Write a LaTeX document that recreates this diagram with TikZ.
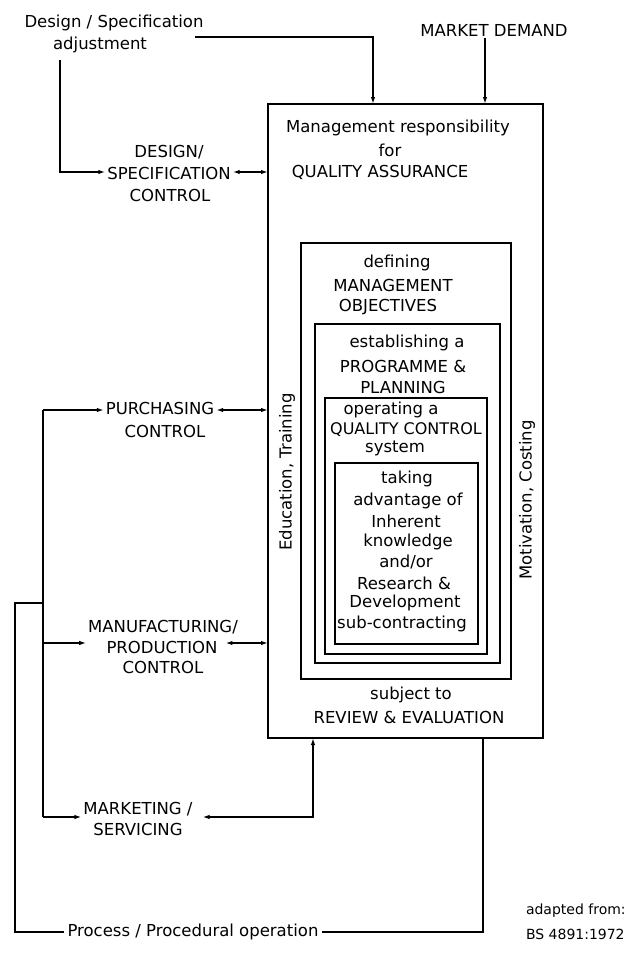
\documentclass[tikz,border=0pt]{standalone}
\usepackage{fontspec}
\setmainfont{DejaVu Sans}
\usetikzlibrary{arrows.meta}
\tikzset{
  ln/.style={line width=1.8pt},
  tipA/.tip={Latex[length=7pt,width=4.5pt]},
  arr/.style={ln, -tipA},
  both/.style={ln, tipA-tipA},
  txt/.style={font=\fontsize{16.5}{21}\selectfont, inner sep=2pt, outer sep=0pt},
  small/.style={font=\fontsize{14}{18}\selectfont, inner sep=0pt, outer sep=0pt},
  frame/.style={draw, line width=1.8pt, inner sep=0pt, outer sep=0pt},
}
\begin{document}
\begin{tikzpicture}[x=1pt,y=-1pt]
\useasboundingbox (0,0) rectangle (629,967);
\fill[white] (0,0) rectangle (629,967);

% ---------- nested frames ----------
\node[frame, minimum width=275pt, minimum height=634pt] (b0) at (405.5,421) {};
\node[frame, minimum width=210pt, minimum height=436pt] (b1) at (406,461) {};
\node[frame, minimum width=185pt, minimum height=339pt] (b2) at (407.5,493.5) {};
\node[frame, minimum width=162pt, minimum height=256pt] (b3) at (406,526) {};
\node[frame, minimum width=143pt, minimum height=181pt] (b4) at (406.5,553.5) {};

% ---------- texts inside ----------
\node[txt] (m1) at (398,128) {Management responsibility};
\node[txt] (m2) at (390,150) {for};
\node[txt] (m3) at (380,172) {QUALITY ASSURANCE};

\node[txt] (d1) at (397,263) {defining};
\node[txt] (d2) at (393,285) {MANAGEMENT};
\node[txt] (d3) at (388,307) {OBJECTIVES};

\node[txt] (e1) at (407,343) {establishing a};
\node[txt] (e2) at (403,366) {PROGRAMME \&};
\node[txt] (e3) at (403,387) {PLANNING};

\node[txt] (o1) at (391,410) {operating a};
\node[txt, font=\fontsize{16}{21}\selectfont] (o2) at (406,430) {QUALITY CONTROL};
\node[txt] (o3) at (395,448) {system};

\node[txt] (t1) at (407,479) {taking};
\node[txt] (t2) at (408,501) {advantage of};
\node[txt] (t3) at (406,521) {Inherent};
\node[txt] (t4) at (408,542) {knowledge};
\node[txt] (t5) at (406,562) {and/or};
\node[txt] (t6) at (404,583) {Research \&};
\node[txt] (t7) at (405,603) {Development};
\node[txt] (t8) at (402,624) {sub-contracting};

\node[txt] (s1) at (411,695) {subject to};
\node[txt] (s2) at (409,717) {REVIEW \& EVALUATION};

\node[txt, rotate=90] (edu) at (287,472) {Education, Training};
\node[txt, rotate=90] (mot) at (527,500) {Motivation, Costing};

% ---------- top ----------
\node[txt] (dsa) at (114,23) {Design / Specification};
\node[txt] (adj) at (100,45) {adjustment};
\node[txt] (md) at (494,30) {MARKET DEMAND};

\coordinate (dsaEnd) at (195,37);
\coordinate (dsaIn) at (373,104);
\draw[arr] (dsaEnd) -| (dsaIn);

\coordinate (mdX) at (485,0);
\draw[arr] (md.south -| mdX) -- (mdX |- b0.north);

% ---------- design / specification control ----------
\node[txt] (dc1) at (169,152) {DESIGN/};
\node[txt] (dc2) at (169,173) {SPECIFICATION};
\node[txt] (dc3) at (170,195) {CONTROL};
\coordinate (adjFoot) at (60,60);
\draw[arr] (adjFoot) |- ([yshift=1pt]dc2.west);
\draw[both] ([yshift=1pt]dc2.east) -- ([yshift=1pt]dc2.east -| b0.west);

% ---------- purchasing ----------
\node[txt] (pc1) at (160,408) {PURCHASING};
\node[txt] (pc2) at (165,431) {CONTROL};
\coordinate (busTop) at (43,410);
\draw[arr] (busTop) -- ([yshift=-2pt]pc1.west);
\draw[both] ([yshift=-2pt]pc1.east) -- ([yshift=-2pt]pc1.east -| b0.west);

% ---------- manufacturing ----------
\node[txt] (mf1) at (163,627) {MANUFACTURING/};
\node[txt] (mf2) at (162,647) {PRODUCTION};
\node[txt] (mf3) at (163,667) {CONTROL};
\coordinate (mfY) at (0,643);
\draw[arr] (busTop |- mfY) -- (mf1.west |- mfY);
\draw[both] ([xshift=6pt]mf2.east |- mfY) -- (b0.west |- mfY);

% ---------- marketing ----------
\node[txt] (mk1) at (138,809) {MARKETING /};
\node[txt] (mk2) at (138,829) {SERVICING};
\coordinate (mkY) at (0,817);
\coordinate (mkUp) at (313,738);
\draw[arr] (busTop |- mkY) -- (mk1.west |- mkY);
\draw[both] ([xshift=8pt]mk1.east |- mkY) -| (mkUp);

% bus
\draw[ln] (busTop) -- (busTop |- mkY);

% ---------- process ----------
\node[txt] (proc) at (193,932) {Process / Procedural operation};
\coordinate (outerTop) at (15,603);
\coordinate (busJoin) at (43,603);
\coordinate (procUp) at (483,738);
\draw[ln] ([xshift=-2pt]proc.west) -| (outerTop) -- (busJoin);
\draw[ln] ([xshift=2pt]proc.east) -| (procUp);

% ---------- source ----------
\node[small, anchor=west] (src1) at (526,911) {adapted from:};
\node[small, anchor=west] (src2) at (526,934) {BS 4891:1972};
\end{tikzpicture}
\end{document}
